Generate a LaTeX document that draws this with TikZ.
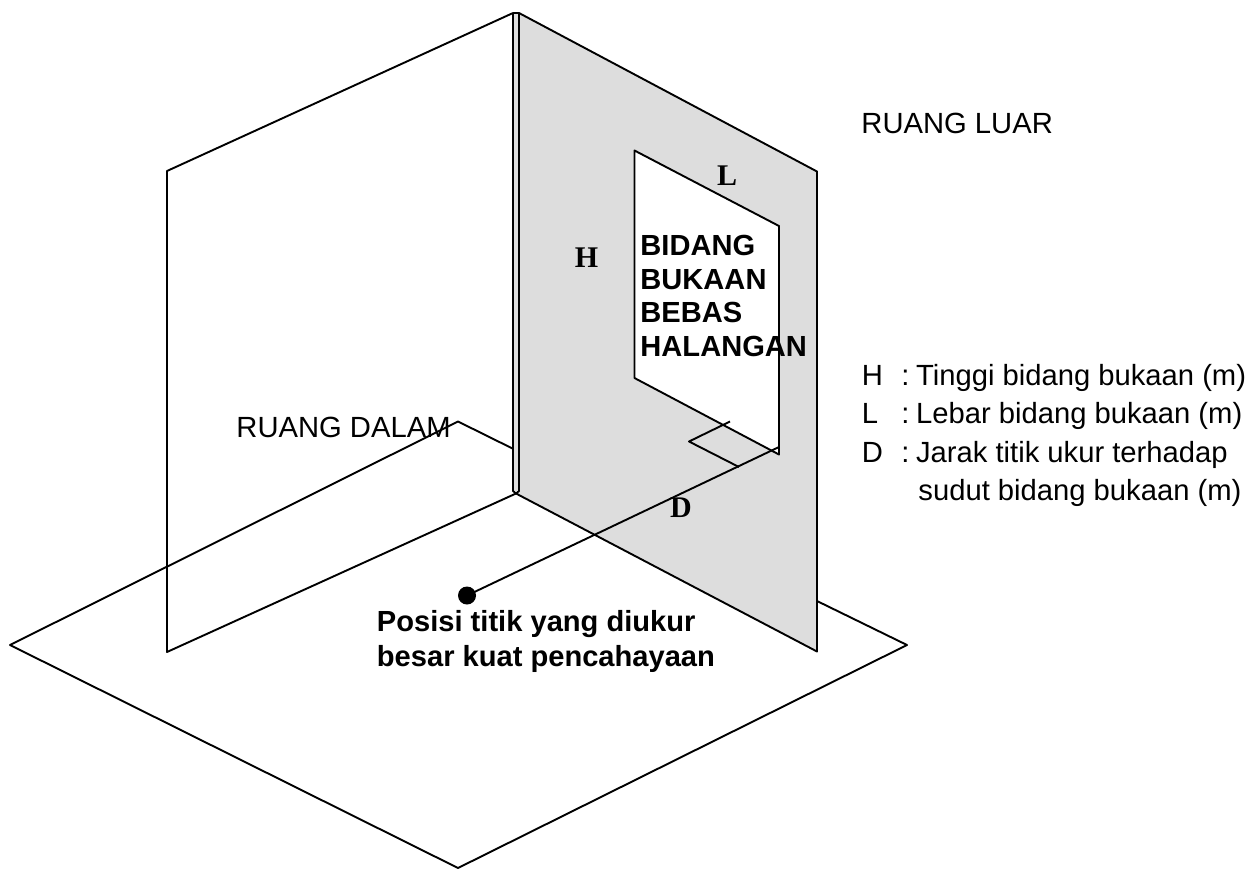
\documentclass[tikz,border=0pt]{standalone}
\usepackage{fontspec}
\setmainfont{Liberation Sans}
\newfontfamily\serifbold{Liberation Serif}
\newcommand{\legkey}[1]{\makebox[39.5pt][l]{#1}:\hspace{6.5pt}}
\definecolor{wallgray}{HTML}{DDDDDD}
\tikzset{
  every path/.style={line width=1.9pt,line join=round},
  wallfill/.style={fill=wallgray,draw=black},
  plain/.style={font=\fontsize{29.2}{29.2}\selectfont,inner sep=0pt,anchor=base west},
  boldt/.style={font=\fontsize{29.1}{33.8}\selectfont\bfseries,inner sep=0pt,anchor=north west,align=left},
  boldp/.style={font=\fontsize{29.1}{35}\selectfont\bfseries,inner sep=0pt,anchor=north west,align=left},
  dimlabel/.style={font=\fontsize{30}{30}\selectfont\serifbold\bfseries,inner sep=0pt}
}
\begin{document}
\begin{tikzpicture}[x=1pt,y=-1pt]
\useasboundingbox (0,0) rectangle (1258,868);
\fill[white] (0,0) rectangle (1258,868);
% floor
\coordinate (fl) at (10,645);
\coordinate (fb) at (458,868);
\coordinate (fr) at (907,645);
\coordinate (fe) at (817,601);
\coordinate (ft) at (458,421.5);
\coordinate (fw) at (512.5,448.5);
\draw (fe) -- (fr) -- (fb) -- (fl) -- (ft) -- (fw);
% left wall
\coordinate (lt) at (513,13);
\coordinate (lo) at (167,171);
\coordinate (lb) at (167,652);
\coordinate (c) at (516,493.5);
\draw (lt) -- (lo) -- (lb) -- (c);
% right wall
\coordinate (rt) at (519,13);
\coordinate (ro) at (817,171.5);
\coordinate (rb) at (817,651.5);
\draw[wallfill] (rt) -- (ro) -- (rb) -- (c) -- (519,491) -- cycle;
\fill[wallgray] (513,13) rectangle (519,491);
\draw (513,13) -- (513,491) -- (c);
\draw (519,13) -- (519,491);
\draw (513,13) -- (519,13);
% opening
\coordinate (o1) at (634.5,150.5);
\coordinate (o2) at (779,226);
\coordinate (o3) at (779,454.5);
\coordinate (o4) at (634.5,378);
\draw[fill=white] (o1) -- (o2) -- (o3) -- (o4) -- cycle;
% measure lines
\coordinate (p1) at (689,441.5);
\coordinate (p2) at (730,421.5);
\coordinate (p3) at (739,467);
\coordinate (e) at (779,447);
\node[circle,fill=black,draw=none,minimum size=18pt,inner sep=0pt] (dot) at (467,595.5) {};
\draw (dot.center) -- (e) -- (o3);
\draw (p2) -- (p1) -- (p3);
% labels
\node[plain] (luar) at (860.5,133) {RUANG LUAR};
\node[plain] (dalam) at (235.5,437) {RUANG DALAM};
\node[boldt] (bid) at (639.5,234) {BIDANG\\BUKAAN\\BEBAS\\HALANGAN};
\node[dimlabel] (hh) at (586.5,258) {H};
\node[dimlabel] (ll) at (727,175.5) {L};
\node[dimlabel] (dd) at (681,507.5) {D};
\node[boldp] (pos) at (376,609) {Posisi titik yang diukur\\besar kuat pencahayaan};
\node[plain] (l1) at (861,385) {\legkey{H}Tinggi bidang bukaan (m)};
\node[plain] (l2) at (861,423) {\legkey{L}Lebar bidang bukaan (m)};
\node[plain] (l3) at (861,462) {\legkey{D}Jarak titik ukur terhadap};
\node[plain] (l4) at (917.5,500.5) {sudut bidang bukaan (m)};
\end{tikzpicture}
\end{document}
